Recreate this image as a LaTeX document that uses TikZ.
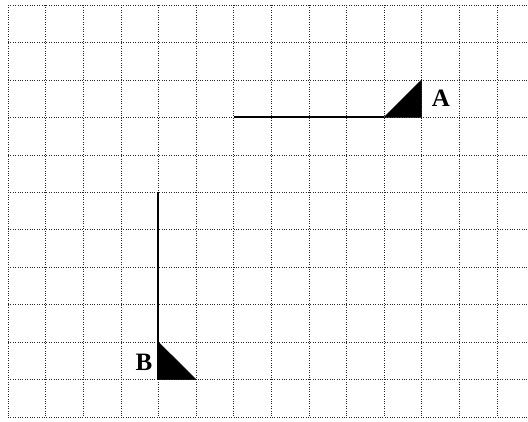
\documentclass[tikz,border=0pt]{standalone}
\usepackage{fontspec}
\setmainfont{Liberation Serif}
\begin{document}
\begin{tikzpicture}[x=1pt,y=-1pt,
  gridline/.style={line width=0.6pt, dash pattern=on 0.9pt off 1.5pt, black!85},
  seg/.style={line width=2pt, black},
  flag/.style={fill=black, draw=black, line width=0.5pt},
  lbl/.style={font=\fontsize{25}{30}\selectfont\bfseries, inner sep=0pt}]
\useasboundingbox (0,0) rectangle (528,421);
% grid
\foreach \i in {0,...,13} {
  \draw[gridline] ({8+37.6*\i},5) -- ({8+37.6*\i},417);
}
\foreach \j in {0,...,11} {
  \draw[gridline] (8,{5+37.45*\j}) -- (528,{5+37.45*\j});
}
% A
\coordinate (a1) at (233.6,117.35);
\coordinate (a2) at (384,117.35);
\coordinate (a3) at (421.6,117.35);
\coordinate (a4) at (421.6,79.9);
\draw[seg] (a1) -- (a2);
\fill[flag] (a2) -- (a3) -- (a4) -- cycle;
\node[lbl] (A) at (441,98) {A};
% B
\coordinate (b1) at (158.4,192.25);
\coordinate (b2) at (158.4,342.05);
\coordinate (b3) at (158.4,379.5);
\coordinate (b4) at (196,379.5);
\draw[seg] (b1) -- (b3);
\fill[flag] (b2) -- (b3) -- (b4) -- cycle;
\node[lbl] (B) at (144,362.5) {B};
\end{tikzpicture}
\end{document}
